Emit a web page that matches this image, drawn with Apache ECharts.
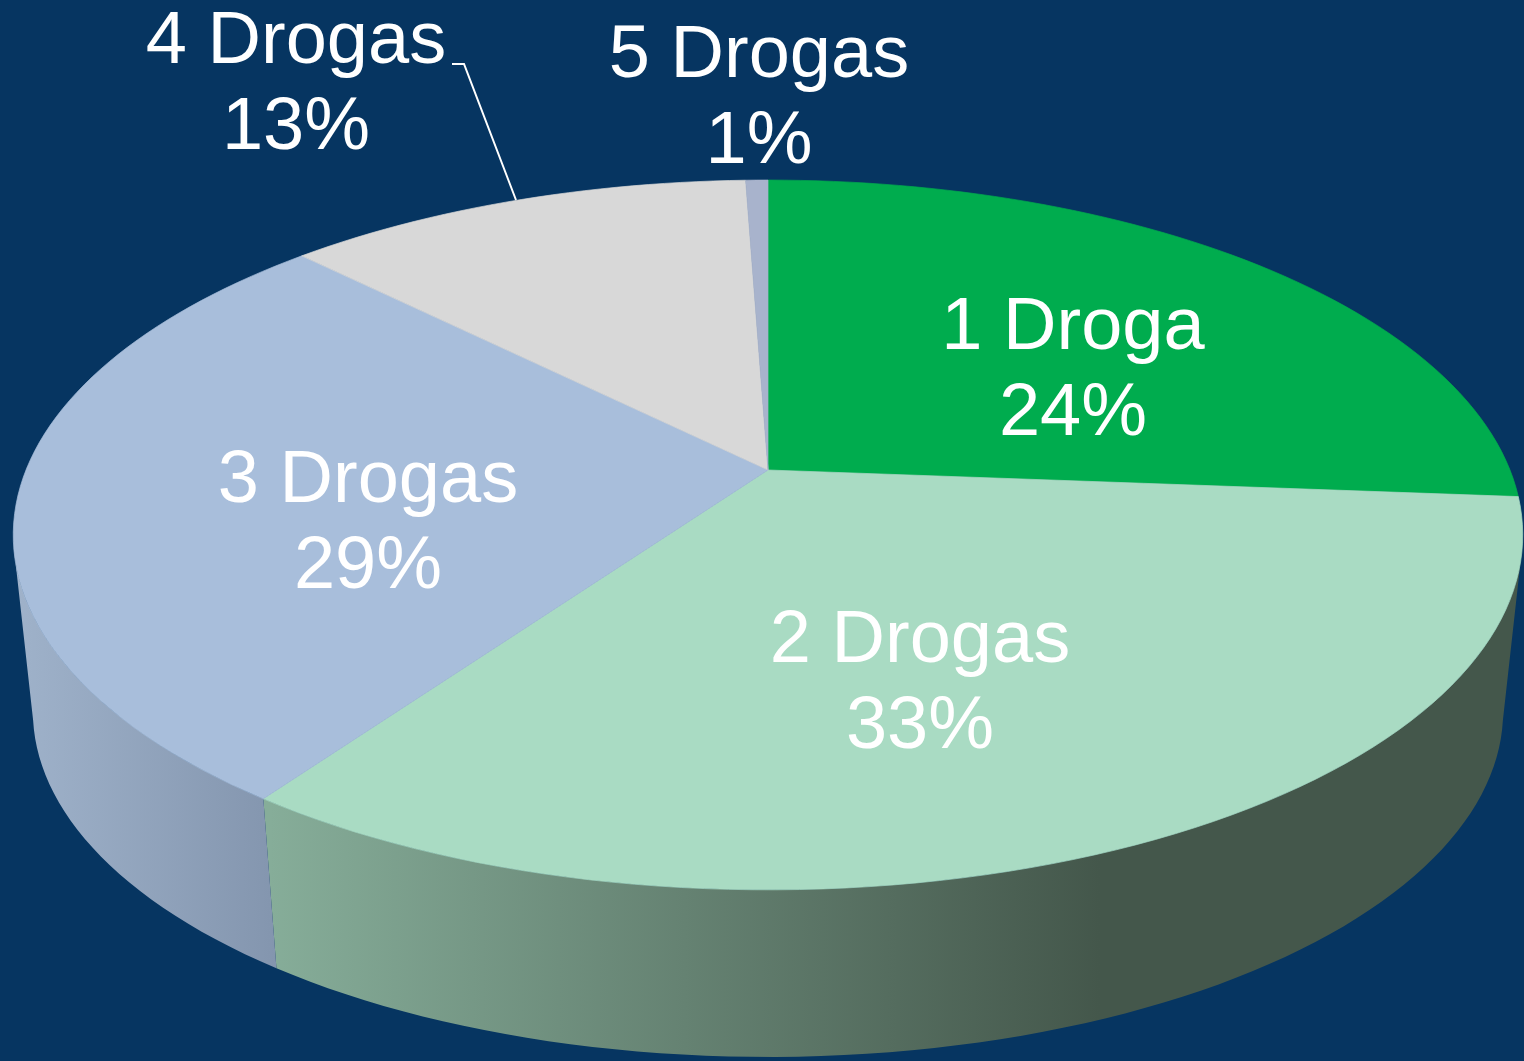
<!DOCTYPE html>
<html>
<head>
<meta charset="utf-8">
<style>
html, body { margin: 0; padding: 0; background: #063561; }
#pie { width: 1524px; height: 1061px; }
</style>
<script src="https://cdn.jsdelivr.net/npm/echarts@6/dist/echarts.min.js"></script>
</head>
<body>
<div id="pie"></div>
<script>
var categories = ['1 Droga', '2 Drogas', '3 Drogas', '4 Drogas', '5 Drogas'];
var percents = [24, 33, 29, 13, 1];

var topColors = ['#00ac4e', '#a9dbc3', '#a8bedb', '#d8d8d8', '#a8b3cc'];
var labelPlaces = [[1073, 372], [920, 685], [368, 525], [296, 86], [759, 100]];

// the 3d view: a tilted disc seen in perspective
var cx = 768, cy = 470, rx = 742, ry = 343, persp = 0.183;
var wallDrop = 178, wallScale = 0.974;
// part of the side wall that faces the viewer, degrees clockwise from the top
var wallFrom = 102, wallTo = 258;

function warp(deg) {
    // the original 3d chart pushes the slice edges round a little
    var rad = deg * Math.PI / 180;
    var d = deg + 9.5 * Math.sqrt(Math.sin(rad / 2)) + Math.sin(2 * rad);
    return Math.min(d, 360);
}
function rim(deg, lower) {
    var a = deg * Math.PI / 180;
    var u = Math.sin(a), v = Math.cos(a);
    var w = 1 + persp * v;
    var s = lower ? wallScale : 1;
    return [cx + s * rx * u / w, cy + (lower ? wallDrop : 0) - s * ry * v / w];
}
function arc(from, to, lower) {
    var pts = [];
    var n = Math.max(2, Math.ceil((to - from) / 1.5));
    for (var i = 0; i <= n; i++) {
        pts.push(rim(from + (to - from) * i / n, lower));
    }
    return pts;
}
function wallFill(i) {
    if (i === 1) {
        return new echarts.graphic.LinearGradient(270, 0, 1100, 0, [
            { offset: 0, color: '#86ad99' },
            { offset: 1, color: '#44574b' }
        ], true);
    }
    return new echarts.graphic.LinearGradient(15, 0, 280, 0, [
        { offset: 0, color: '#9fb2ca' },
        { offset: 1, color: '#8395ae' }
    ], true);
}

function renderSlice(params, api) {
    var i = api.value(0);
    var before = 0;
    for (var k = 0; k < i; k++) before += percents[k];
    var from = warp(before * 3.6);
    var to = warp((before + api.value(1)) * 3.6);
    var children = [];
    var a = Math.max(from, wallFrom), b = Math.min(to, wallTo);
    if (b > a) {
        children.push({
            type: 'polygon',
            z2: 1,
            shape: { points: arc(a, b, false).concat(arc(a, b, true).reverse()) },
            style: { fill: wallFill(i) }
        });
    }
    children.push({
        type: 'polygon',
        z2: 2,
        shape: { points: [[cx, cy]].concat(arc(from, to, false)) },
        style: { fill: topColors[i], stroke: topColors[i], lineWidth: 0.7 }
    });
    return { type: 'group', children: children };
}

function renderLabel(params, api) {
    var i = api.value(0);
    return {
        type: 'text',
        z2: 5,
        x: labelPlaces[i][0],
        y: labelPlaces[i][1],
        style: {
            text: categories[i] + '\n' + api.value(1) + '%',
            fill: '#fff',
            font: '74px "Liberation Sans", Arial, sans-serif',
            lineHeight: 86,
            align: 'center',
            verticalAlign: 'middle'
        }
    };
}

var rows = percents.map(function (p, i) { return [i, p]; });

var myChart = echarts.init(document.getElementById('pie'));
var option = {
    backgroundColor: '#063561',
    animation: false,
    series: [
        { type: 'custom', coordinateSystem: 'none', renderItem: renderSlice, data: rows, z: 1, silent: true },
        { type: 'custom', coordinateSystem: 'none', renderItem: renderLabel, data: rows, z: 3, silent: true }
    ],
    graphic: [{
        type: 'polyline',
        z: 4,
        shape: { points: [[516, 200], [464, 64], [452, 64]] },
        style: { stroke: '#fff', lineWidth: 2, fill: null }
    }]
};
myChart.setOption(option);
</script>
</body>
</html>
